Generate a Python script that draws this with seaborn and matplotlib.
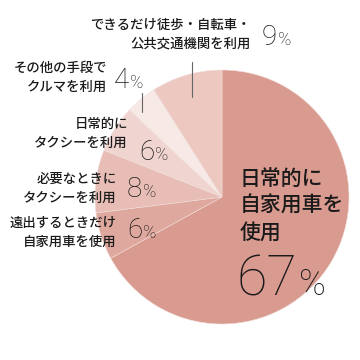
import matplotlib
matplotlib.use("Agg")
import matplotlib.pyplot as plt
import seaborn as sns

# data: clockwise from 12 o'clock
labels = ["日常的に\n自家用車を\n使用",
          "遠出するときだけ\n自家用車を使用",
          "必要なときに\nタクシーを利用",
          "日常的に\nタクシーを利用",
          "その他の手段で\nクルマを利用",
          "できるだけ徒歩・自転車・\n公共交通機関を利用"]
values = [67, 6, 8, 6, 4, 9]
colors = ["#d99a8f", "#dfa89e", "#e7bdb5", "#efd4cf", "#f6e9e6", "#ecc8c1"]

sns.set_theme(style="white")
plt.rcParams["font.family"] = ["Noto Sans CJK JP", "DejaVu Sans"]

fig = plt.figure(figsize=(3.6, 3.6), dpi=100)
ax = fig.add_axes([0, 0, 1, 1])
ax.pie(values, colors=colors, startangle=90, counterclock=False,
       center=(222, 163), radius=127,
       wedgeprops=dict(linewidth=0.4, edgecolor="#f1ddd9"))
ax.set_xlim(0, 360)
ax.set_ylim(0, 360)
ax.set_aspect("equal")
ax.axis("off")

def Y(y):
    return 360 - y

num_font = dict(family=["Roboto", "DejaVu Sans"], fontweight="light", color="#1a1a1a")
lab_font = dict(color="#1a1a1a", fontsize=9.6, linespacing=1.45, fontweight="medium")

# label text, right edge x, center y (px from top)
small = [
    (labels[5], 251, 34),
    (labels[4], 107, 77),
    (labels[3], 128, 133),
    (labels[2], 117, 188),
    (labels[1], 117, 232),
]
for txt, x, y in small:
    ax.text(x, Y(y), txt, ha="right", va="center", **lab_font)

fig.canvas.draw()
renderer = fig.canvas.get_renderer()

def pct(v, x, y, size, psize, gap):
    t = ax.text(x, Y(y), str(v), ha="left", va="baseline", fontsize=size, **num_font)
    bb = t.get_window_extent(renderer)
    x1 = ax.transData.inverted().transform((bb.x1, bb.y0))[0]
    ax.text(x1 + gap, Y(y), "%", ha="left", va="baseline", fontsize=psize, **num_font)

# percentage numbers: value, left x of digit, baseline y (px)
pcts = [(values[5], 262, 45), (values[4], 114, 88), (values[3], 139, 160),
        (values[2], 127, 197), (values[1], 127, 238)]
for v, x, y in pcts:
    pct(v, x, y, 20, 13, 1)

# big slice
ax.text(240, Y(206), labels[0], ha="left", va="center", color="#1a1a1a",
        fontsize=15, linespacing=1.3, fontweight="medium")
pct(values[0], 237, 295, 40, 26, 1)

# leader lines
ax.plot([192, 192], [Y(62), Y(97)], color="#666666", lw=0.8)
ax.plot([142, 142], [Y(93), Y(112)], color="#666666", lw=0.8)

fig.savefig("out.png", dpi=100)
